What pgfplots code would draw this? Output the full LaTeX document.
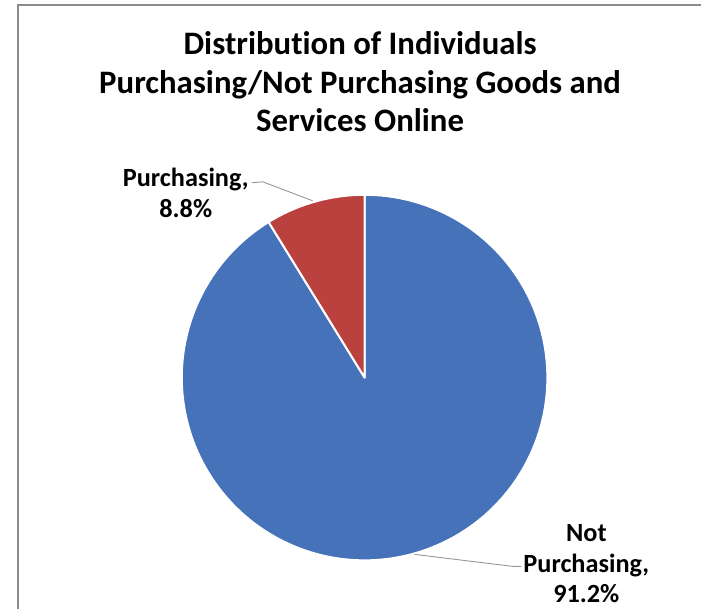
\documentclass[border=0pt]{standalone}
\usepackage{pgfplots}
\pgfplotsset{compat=1.18}
\usepackage{pgfplotstable}
\usepackage{fontspec}
\setmainfont[Ligatures=NoCommon]{Carlito}
\definecolor{pieblue}{RGB}{69,114,185}
\definecolor{piered}{RGB}{186,65,62}
\definecolor{framegray}{RGB}{140,140,140}
\definecolor{leadergray}{RGB}{150,150,150}
\pgfplotstableread{
label value
Purchasing 8.8
NotPurchasing 91.2
}\piedata
\pgfplotstablegetelem{0}{value}\of\piedata
\let\vPurch\pgfplotsretval
\pgfmathsetmacro{\aSplit}{90+3.6*\vPurch}
\newcommand{\px}[2]{(rel axis cs:{#1/702},{1-#2/610})}
\begin{document}
\begin{tikzpicture}
\begin{axis}[
  x=183pt, y=183pt,
  xmin=-1.99454, xmax=1.84153,
  ymin=-1.26776, ymax=2.06557,
  hide axis, clip=false,
]
\path \px{0}{0} rectangle \px{702}{610};
% frame
\draw[framegray, line width=1.6pt] \px{18}{610} -- \px{18}{5} -- \px{702}{5};
% slices
\addplot[fill=pieblue, draw=white, line width=2pt, line join=round,
  domain=\aSplit:450, samples=200, variable=\t]
  ({cos(\t)},{sin(\t)}) -- (axis cs:0,0) -- cycle;
\addplot[fill=piered, draw=white, line width=2pt, line join=round,
  domain=90:\aSplit, samples=30, variable=\t]
  ({cos(\t)},{sin(\t)}) -- (axis cs:0,0) -- cycle;
% leaders
\draw[leadergray, line width=0.9pt] \px{252}{183} -- \px{263}{182} -- \px{313}{201};
\draw[leadergray, line width=0.9pt] \px{415}{555} -- \px{513}{567} -- \px{522}{567};
% title
\begin{scope}[every node/.style={anchor=base, inner sep=0pt, font=\fontsize{32.8}{38.5}\selectfont\bfseries}]
\node at \px{360.5}{55} {Distribution of Individuals};
\node at \px{360.5}{94} {Purchasing/Not Purchasing Goods and};
\node at \px{360.5}{132} {Services\ Online};
\end{scope}
% labels
\begin{scope}[every node/.style={anchor=base, inner sep=0pt, font=\fontsize{26.3}{31}\selectfont\bfseries}]
\node at \px{186}{187} {Purchasing,};
\node at \px{186}{218} {8.8\%};
\node at \px{587}{542} {Not};
\node at \px{587}{573} {Purchasing,};
\node at \px{587}{603} {91.2\%};
\end{scope}
\end{axis}
\end{tikzpicture}
\end{document}
